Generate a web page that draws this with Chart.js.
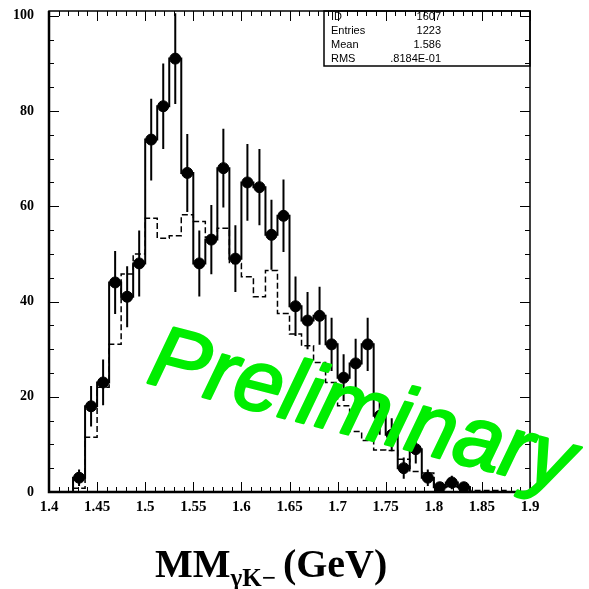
<!DOCTYPE html>
<html>
<head>
<meta charset="utf-8">
<script src="https://cdn.jsdelivr.net/npm/chart.js@4.4.0/dist/chart.umd.min.js"></script>
<style>
html,body{margin:0;padding:0;background:#fff;}
#wrap{width:589px;height:589px;position:relative;}
</style>
</head>
<body>
<div id="wrap"><canvas id="histo"></canvas></div>
<script>
// bin low edges (GeV), 40 bins of 0.0125
const binLow = [1.4, 1.4125, 1.425, 1.4375, 1.45, 1.4625, 1.475, 1.4875, 1.5, 1.5125,
  1.525, 1.5375, 1.55, 1.5625, 1.575, 1.5875, 1.6, 1.6125, 1.625, 1.6375,
  1.65, 1.6625, 1.675, 1.6875, 1.7, 1.7125, 1.725, 1.7375, 1.75, 1.7625,
  1.775, 1.7875, 1.8, 1.8125, 1.825, 1.8375, 1.85, 1.8625, 1.875, 1.8875];
const binWidth = 0.0125;
const xEnd = 1.9;

// data counts (points + solid histogram)
const counts = [0, 0, 3, 18, 23, 44, 41, 48, 74, 81,
  91, 67, 48, 53, 68, 49, 65, 64, 54, 58,
  39, 36, 37, 31, 24, 27, 31, 16, 12, 5,
  9, 3, 1, 2, 1, 0, 0, 0, 0, 0];
// statistical errors on counts
const errors = [0, 0, 1.73, 4.24, 4.80, 6.63, 6.40, 6.93, 8.60, 9.00,
  9.54, 8.19, 6.93, 7.28, 8.25, 7.00, 8.06, 8.00, 7.35, 7.62,
  6.24, 6.00, 6.08, 5.57, 4.90, 5.20, 5.57, 4.00, 3.46, 2.24,
  3.00, 1.73, 1.00, 1.41, 1.00, 0, 0, 0, 0, 0];
// dashed histogram (simulation)
const simCounts = [0, 0, 0.8, 11.5, 22, 31, 45.8, 50, 57.5, 53.3,
  53.8, 58.2, 56.8, 53.5, 55.4, 48, 45.2, 41, 46.5, 37.5,
  33.2, 30.7, 27.2, 23, 18.1, 12.7, 10.8, 8.8, 8.7, 6.9,
  4.3, 4, 1.8, 1.1, 1.1, 0.3, 0.3, 0.3, 0, 0];

const statNames = ["ID", "Entries", "Mean", "RMS"];
const statValues = ["1607", "1223", "1.586", ".8184E-01"];

const yMin = 0, yMax = 101;

// build chart tables from the arrays
function stepPoints(vals) {
  const pts = binLow.map((x, i) => ({x: x, y: vals[i]}));
  pts.push({x: xEnd, y: 0});
  return pts;
}
const markerPts = [];
const errPts = [];
binLow.forEach((x, i) => {
  if (counts[i] <= 0) return;
  const c = x + binWidth / 2;
  markerPts.push({x: c, y: counts[i]});
  errPts.push({x: c, y: counts[i] - errors[i]});
  errPts.push({x: c, y: counts[i] + errors[i]});
  errPts.push({x: c, y: null});
});

const serif = '"Liberation Serif", "Times New Roman", serif';
const sans = '"Liberation Sans", Arial, sans-serif';

const pawDecor = {
  id: 'pawDecor',
  afterDraw(chart) {
    const {ctx, chartArea: a, scales: {x, y}} = chart;
    ctx.save();
    ctx.strokeStyle = '#000';
    ctx.lineWidth = 1;
    ctx.beginPath();
    for (let i = 0; i <= 50; i++) {
      const px = Math.round(x.getPixelForValue(1.4 + i * 0.01)) + 0.5;
      const len = i % 5 === 0 ? 10 : 5;
      ctx.moveTo(px, a.bottom); ctx.lineTo(px, a.bottom - len);
      ctx.moveTo(px, a.top); ctx.lineTo(px, a.top + len);
    }
    for (let v = 0; v <= 100; v += 5) {
      const py = Math.round(y.getPixelForValue(v)) + 0.5;
      const len = v % 20 === 0 ? 10 : 5;
      ctx.moveTo(a.left, py); ctx.lineTo(a.left + len, py);
      ctx.moveTo(a.right, py); ctx.lineTo(a.right - len, py);
    }
    ctx.stroke();

    // frame
    ctx.lineWidth = 1.5;
    ctx.strokeRect(a.left, a.top, a.width, a.height);
    ctx.lineWidth = 2.5;
    ctx.beginPath();
    ctx.moveTo(a.left, a.top); ctx.lineTo(a.left, a.bottom); ctx.lineTo(a.right, a.bottom);
    ctx.stroke();

    // stats box
    const bx = 324, by = a.top, bw = a.right - 324, bh = 55;
    ctx.lineWidth = 1.5;
    ctx.strokeRect(bx, by, bw, bh);
    ctx.fillStyle = '#000';
    ctx.font = '11px ' + sans;
    ctx.textBaseline = 'middle';
    statNames.forEach((n, i) => {
      const ty = 17 + i * 14;
      ctx.textAlign = 'left';
      ctx.fillText(n, 331, ty);
      ctx.textAlign = 'right';
      ctx.fillText(statValues[i], 441, ty);
    });

    // x axis title with subscript
    ctx.textAlign = 'left';
    ctx.textBaseline = 'alphabetic';
    let tx = 155;
    ctx.font = 'bold 40px ' + serif;
    ctx.fillText('MM', tx, 577);
    tx += ctx.measureText('MM').width;
    ctx.font = 'bold 25px ' + serif;
    ctx.fillText('\u03B3K\u2212', tx, 586);
    tx += ctx.measureText('\u03B3K\u2212').width + 7;
    ctx.font = 'bold 40px ' + serif;
    ctx.fillText('(GeV)', tx, 577);

    // Preliminary stamp
    ctx.translate(145, 382);
    ctx.rotate(14.5 * Math.PI / 180);
    ctx.font = 'italic 87px ' + sans;
    ctx.fillStyle = '#00ee00';
    ctx.strokeStyle = '#00ee00';
    ctx.lineWidth = 2.5;
    ctx.lineJoin = 'round';
    ctx.fillText('Preliminary', 0, 0);
    ctx.strokeText('Preliminary', 0, 0);
    ctx.restore();
  }
};

new Chart(document.getElementById('histo'), {
  type: 'line',
  data: {
    datasets: [{
      label: 'sim',
      data: stepPoints(simCounts),
      stepped: true,
      borderColor: '#000',
      borderWidth: 1.5,
      borderDash: [6, 3],
      pointRadius: 0,
      fill: false
    }, {
      label: 'data hist',
      data: stepPoints(counts),
      stepped: true,
      borderColor: '#000',
      borderWidth: 2,
      pointRadius: 0,
      fill: false
    }, {
      label: 'errors',
      data: errPts,
      borderColor: '#000',
      borderWidth: 2,
      pointRadius: 0,
      spanGaps: false,
      fill: false
    }, {
      label: 'points',
      data: markerPts,
      showLine: false,
      pointRadius: 5.5,
      pointBackgroundColor: '#000',
      pointBorderColor: '#000',
      pointBorderWidth: 1
    }]
  },
  options: {
    responsive: true,
    maintainAspectRatio: false,
    animation: false,
    layout: {padding: {top: 11, right: 59, left: 0, bottom: 0}},
    plugins: {legend: {display: false}, tooltip: {enabled: false}},
    scales: {
      x: {
        type: 'linear',
        min: 1.4,
        max: 1.9,
        afterFit(s) { s.height = 97; s.paddingLeft = 0; s.paddingRight = 0; },
        grid: {display: false, drawTicks: false},
        border: {display: false},
        ticks: {
          stepSize: 0.05,
          autoSkip: false,
          maxRotation: 0,
          padding: 6,
          color: '#000',
          font: {family: serif, weight: 'bold', size: 15},
          callback: v => String(+v.toFixed(2))
        }
      },
      y: {
        min: yMin,
        max: yMax,
        afterFit(s) { s.width = 49; s.paddingTop = 0; s.paddingBottom = 0; },
        grid: {display: false, drawTicks: false},
        border: {display: false},
        ticks: {
          stepSize: 20,
          includeBounds: false,
          padding: 15,
          color: '#000',
          font: {family: serif, weight: 'bold', size: 14}
        }
      }
    }
  },
  plugins: [pawDecor]
});
</script>
</body>
</html>
